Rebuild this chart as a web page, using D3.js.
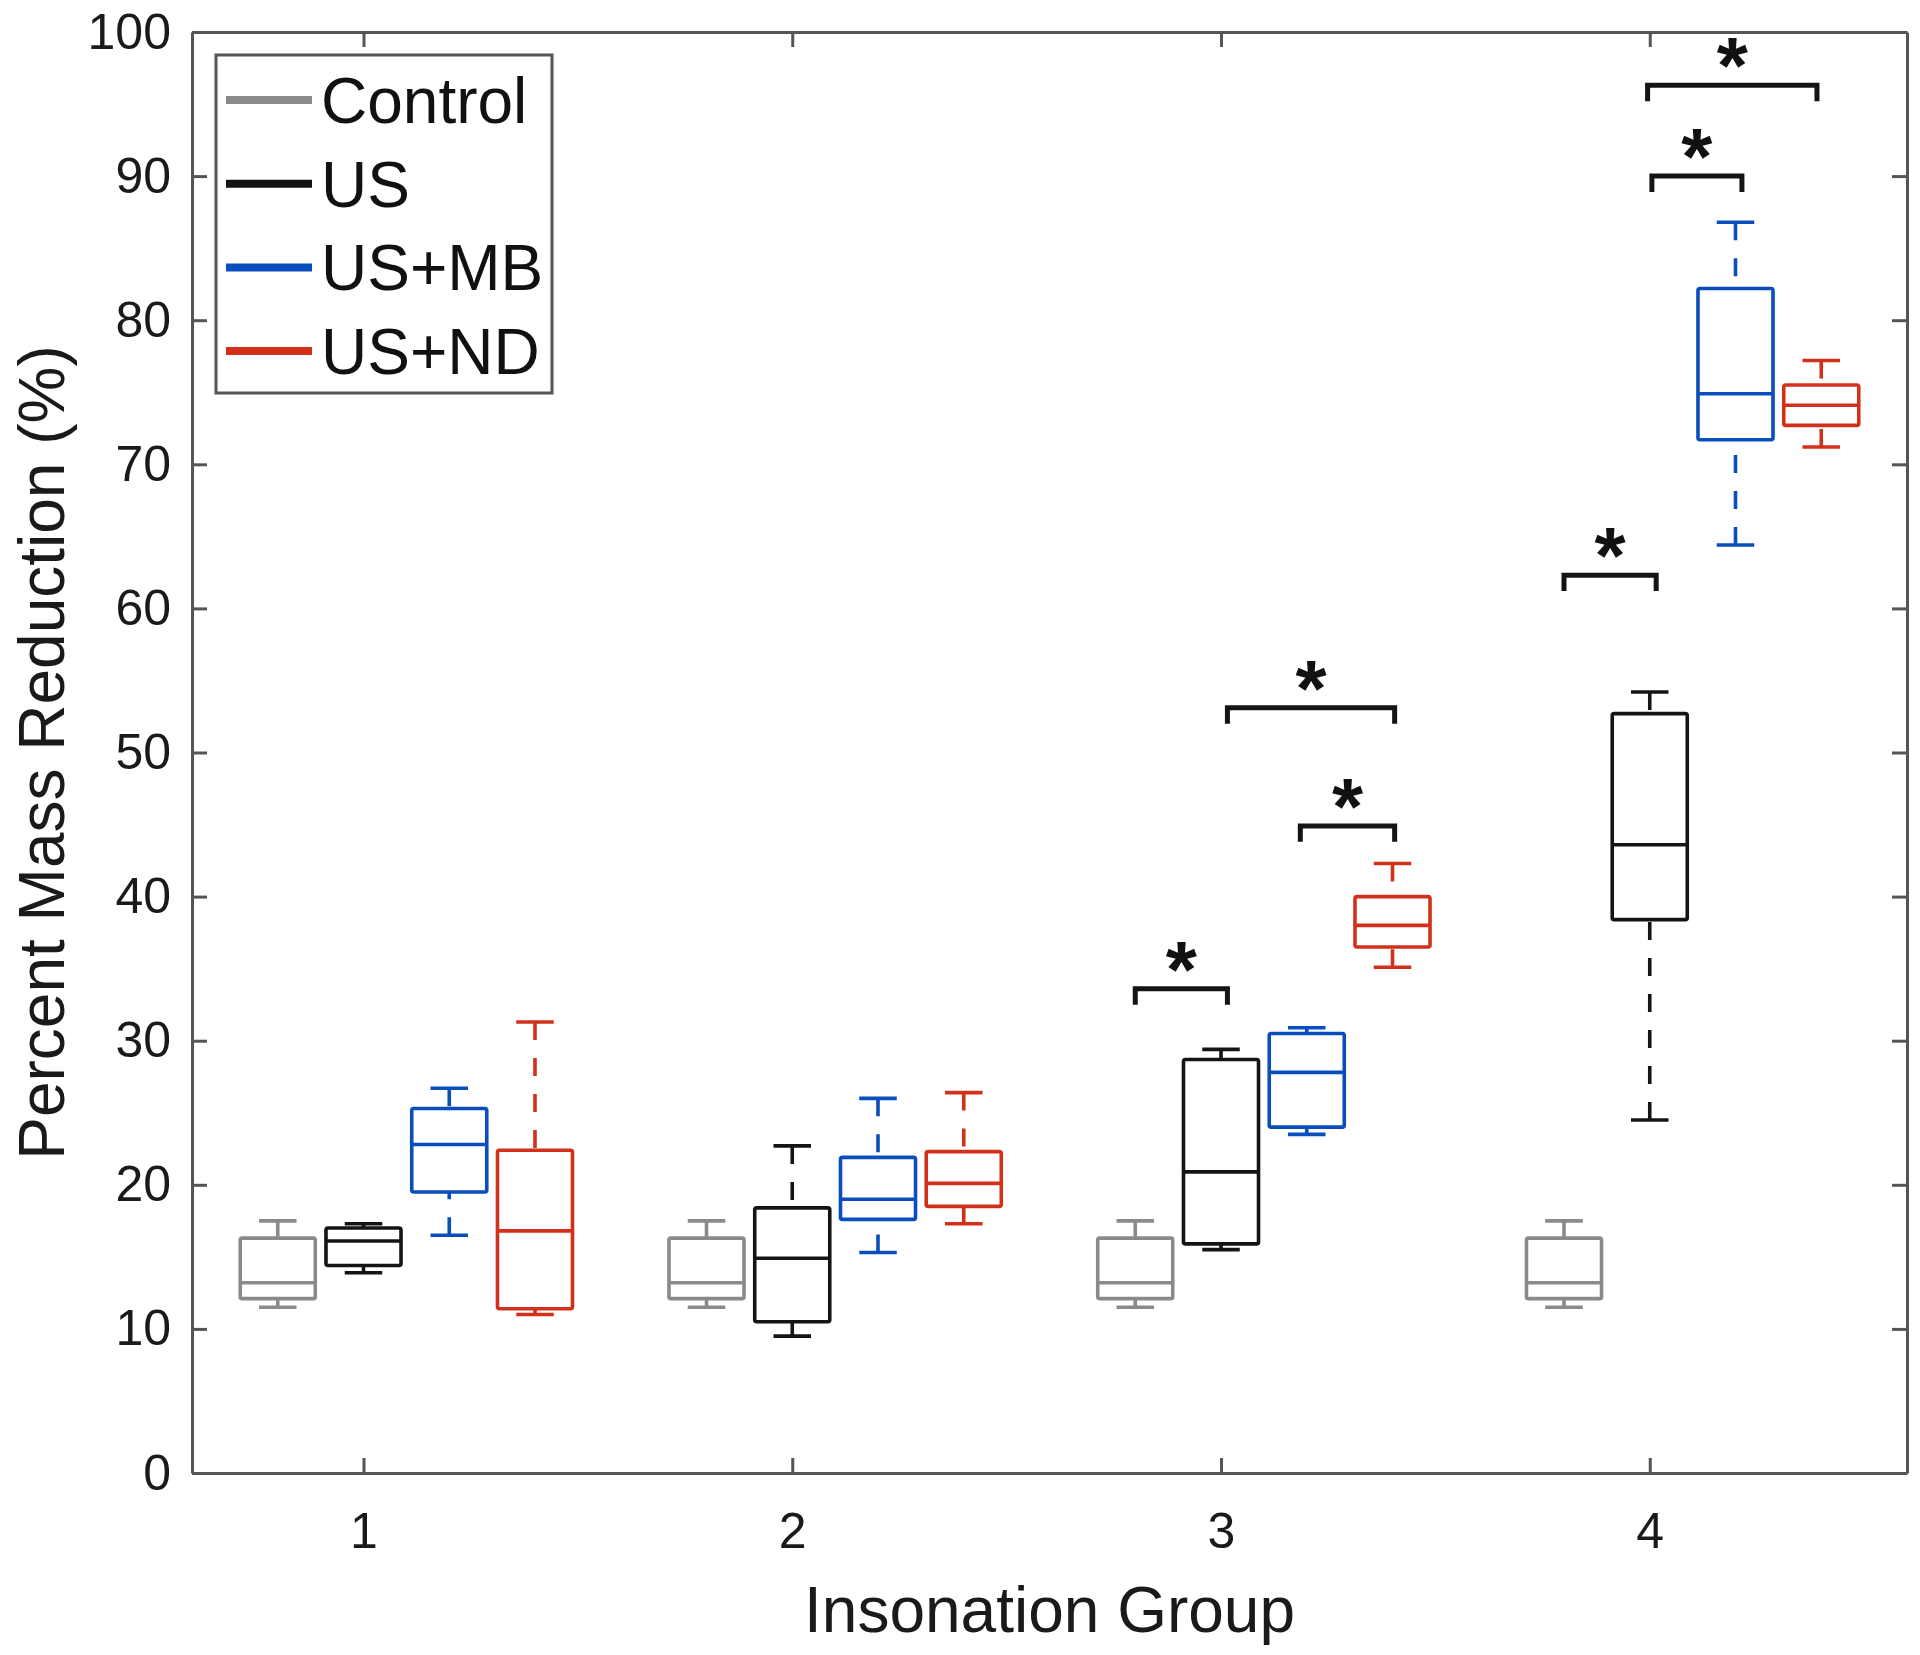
<!DOCTYPE html>
<html>
<head>
<meta charset="utf-8">
<script src="https://cdn.jsdelivr.net/npm/d3@7"></script>
<style>
  html, body { margin: 0; padding: 0; background: #fff; }
  text { font-family: "Liberation Sans", Arial, Helvetica, sans-serif; }
</style>
</head>
<body>
<svg id="chart" width="1920" height="1655"></svg>
<script>
// insonation groups and series
var groups = [1, 2, 3, 4];
var seriesNames = ["Control", "US", "US+MB", "US+ND"];
var seriesOffsets = [-0.2, 0, 0.2, 0.4];
var seriesColors = ["#8a8a8a", "#141414", "#0a4dbd", "#d2301a"];

// box stats per group: [lower whisker, q1, median, q3, upper whisker]
var controlStats = [
  [11.5, 12.1, 13.2, 16.3, 17.5],
  [11.5, 12.1, 13.2, 16.3, 17.5],
  [11.5, 12.1, 13.2, 16.3, 17.5],
  [11.5, 12.1, 13.2, 16.3, 17.5]
];
var usStats = [
  [13.9, 14.4, 16.1, 17.0, 17.3],
  [9.5, 10.5, 14.9, 18.4, 22.7],
  [15.5, 15.9, 20.9, 28.7, 29.4],
  [24.5, 38.4, 43.6, 52.7, 54.2]
];
var usMbStats = [
  [16.5, 19.5, 22.8, 25.3, 26.7],
  [15.3, 17.6, 19.0, 21.9, 26.0],
  [23.5, 24.0, 27.8, 30.5, 30.9],
  [64.4, 71.7, 74.9, 82.2, 86.8]
];
var usNdStats = [
  [11.0, 11.4, 16.8, 22.4, 31.3],
  [17.3, 18.5, 20.1, 22.3, 26.4],
  [35.1, 36.5, 38.0, 40.0, 42.3],
  [71.2, 72.7, 74.1, 75.5, 77.2]
];
var allStats = [controlStats, usStats, usMbStats, usNdStats];

// significance brackets: [x start, x end, level]
var brackets = [
  [2.80, 3.015, 33.6],
  [3.015, 3.405, 53.1],
  [3.185, 3.405, 44.9],
  [3.80, 4.015, 62.3],
  [4.005, 4.215, 90.0],
  [3.995, 4.39, 96.3]
];

var yTicks = [0, 10, 20, 30, 40, 50, 60, 70, 80, 90, 100];

var svg = d3.select("#chart");
var x = d3.scaleLinear().domain([0.6, 4.6]).range([192, 1907]);
var y = d3.scaleLinear().domain([0, 100]).range([1473, 32]);
var axisColor = "#555";
var boxWidth = 0.175;
var legLength = 1.1;

svg.append("rect").attr("width", 1920).attr("height", 1655).attr("fill", "#fff");

// axes
function styleAxis(g) {
  g.selectAll("path, line").attr("stroke", axisColor).attr("stroke-width", 3);
  g.selectAll("text")
    .attr("fill", "#1a1a1a")
    .style("font-size", "50px")
    .style("font-family", "'Liberation Sans', Arial, sans-serif");
}

svg.append("g")
  .attr("transform", "translate(0," + y(0) + ")")
  .call(d3.axisBottom(x).tickValues(groups).tickFormat(d3.format("d"))
    .tickSizeInner(-15).tickSizeOuter(0).tickPadding(39))
  .call(styleAxis);
svg.append("g")
  .attr("transform", "translate(0," + y(100) + ")")
  .call(d3.axisTop(x).tickValues(groups).tickFormat("")
    .tickSizeInner(-15).tickSizeOuter(0))
  .call(styleAxis);
svg.append("g")
  .attr("transform", "translate(" + x(0.6) + ",0)")
  .call(d3.axisLeft(y).tickValues(yTicks).tickFormat(d3.format("d"))
    .tickSizeInner(-15).tickSizeOuter(0).tickPadding(21))
  .call(styleAxis);
svg.append("g")
  .attr("transform", "translate(" + x(4.6) + ",0)")
  .call(d3.axisRight(y).tickValues(yTicks).tickFormat("")
    .tickSizeInner(-15).tickSizeOuter(0))
  .call(styleAxis);

// axis titles
svg.append("text")
  .attr("x", (x(0.6) + x(4.6)) / 2)
  .attr("y", 1632)
  .attr("text-anchor", "middle")
  .attr("fill", "#1a1a1a")
  .style("font-size", "64px")
  .text("Insonation Group");
svg.append("text")
  .attr("transform", "translate(64," + (y(0) + y(100)) / 2 + ") rotate(-90)")
  .attr("text-anchor", "middle")
  .attr("fill", "#1a1a1a")
  .style("font-size", "64px")
  .text("Percent Mass Reduction (%)");

// boxes
var boxData = [];
allStats.forEach(function(stats, s) {
  stats.forEach(function(v, gi) {
    boxData.push({ pos: groups[gi] + seriesOffsets[s], v: v, color: seriesColors[s] });
  });
});

var boxes = svg.append("g").selectAll("g.box").data(boxData).enter()
  .append("g").attr("class", "box")
  .attr("fill", "none")
  .attr("stroke-width", 3.6)
  .attr("stroke", function(d) { return d.color; });

// whiskers, drawn from the caps toward the box
boxes.append("line")
  .attr("x1", function(d) { return x(d.pos); })
  .attr("x2", function(d) { return x(d.pos); })
  .attr("y1", function(d) { return y(d.v[4]); })
  .attr("y2", function(d) { return y(d.v[3]); })
  .attr("stroke-dasharray", "18,18");
boxes.append("line")
  .attr("x1", function(d) { return x(d.pos); })
  .attr("x2", function(d) { return x(d.pos); })
  .attr("y1", function(d) { return y(d.v[0]); })
  .attr("y2", function(d) { return y(d.v[1]); })
  .attr("stroke-dasharray", "18,18");
// caps
[0, 4].forEach(function(k) {
  boxes.append("line")
    .attr("x1", function(d) { return x(d.pos - boxWidth / 4); })
    .attr("x2", function(d) { return x(d.pos + boxWidth / 4); })
    .attr("y1", function(d) { return y(d.v[k]); })
    .attr("y2", function(d) { return y(d.v[k]); });
});
boxes.append("rect")
  .attr("x", function(d) { return x(d.pos - boxWidth / 2); })
  .attr("width", x(boxWidth) - x(0))
  .attr("y", function(d) { return y(d.v[3]); })
  .attr("height", function(d) { return y(d.v[1]) - y(d.v[3]); })
  .attr("rx", 2)
  .attr("stroke-linejoin", "round");
boxes.append("line")
  .attr("x1", function(d) { return x(d.pos - boxWidth / 2); })
  .attr("x2", function(d) { return x(d.pos + boxWidth / 2); })
  .attr("y1", function(d) { return y(d.v[2]); })
  .attr("y2", function(d) { return y(d.v[2]); });

// significance brackets
var sig = svg.append("g").selectAll("g.sig").data(brackets).enter()
  .append("g").attr("class", "sig");
sig.append("path")
  .attr("fill", "none")
  .attr("stroke", "#141414")
  .attr("stroke-width", 5)
  .attr("d", function(b) {
    return d3.line()([
      [x(b[0]), y(b[2] - legLength)],
      [x(b[0]), y(b[2])],
      [x(b[1]), y(b[2])],
      [x(b[1]), y(b[2] - legLength)]
    ]);
  });
sig.append("text")
  .attr("x", function(b) { return x((b[0] + b[1]) / 2); })
  .attr("y", function(b) { return y(b[2]) + 8; })
  .attr("text-anchor", "middle")
  .attr("fill", "#111")
  .style("font-size", "80px")
  .style("font-weight", "bold")
  .text("*");

// legend
var legend = svg.append("g");
legend.append("rect")
  .attr("x", 216).attr("y", 55).attr("width", 336).attr("height", 338)
  .attr("fill", "#fff").attr("stroke", axisColor).attr("stroke-width", 3);
var rows = legend.selectAll("g.row").data(seriesNames).enter()
  .append("g").attr("class", "row")
  .attr("transform", function(d, i) { return "translate(0," + (100 + i * 83.7) + ")"; });
rows.append("line")
  .attr("x1", 226).attr("x2", 312)
  .attr("stroke-width", 8)
  .attr("stroke", function(d, i) { return seriesColors[i]; });
rows.append("text")
  .attr("x", 321).attr("y", 23)
  .attr("fill", "#111")
  .style("font-size", "64px")
  .text(function(d) { return d; });
</script>
</body>
</html>
